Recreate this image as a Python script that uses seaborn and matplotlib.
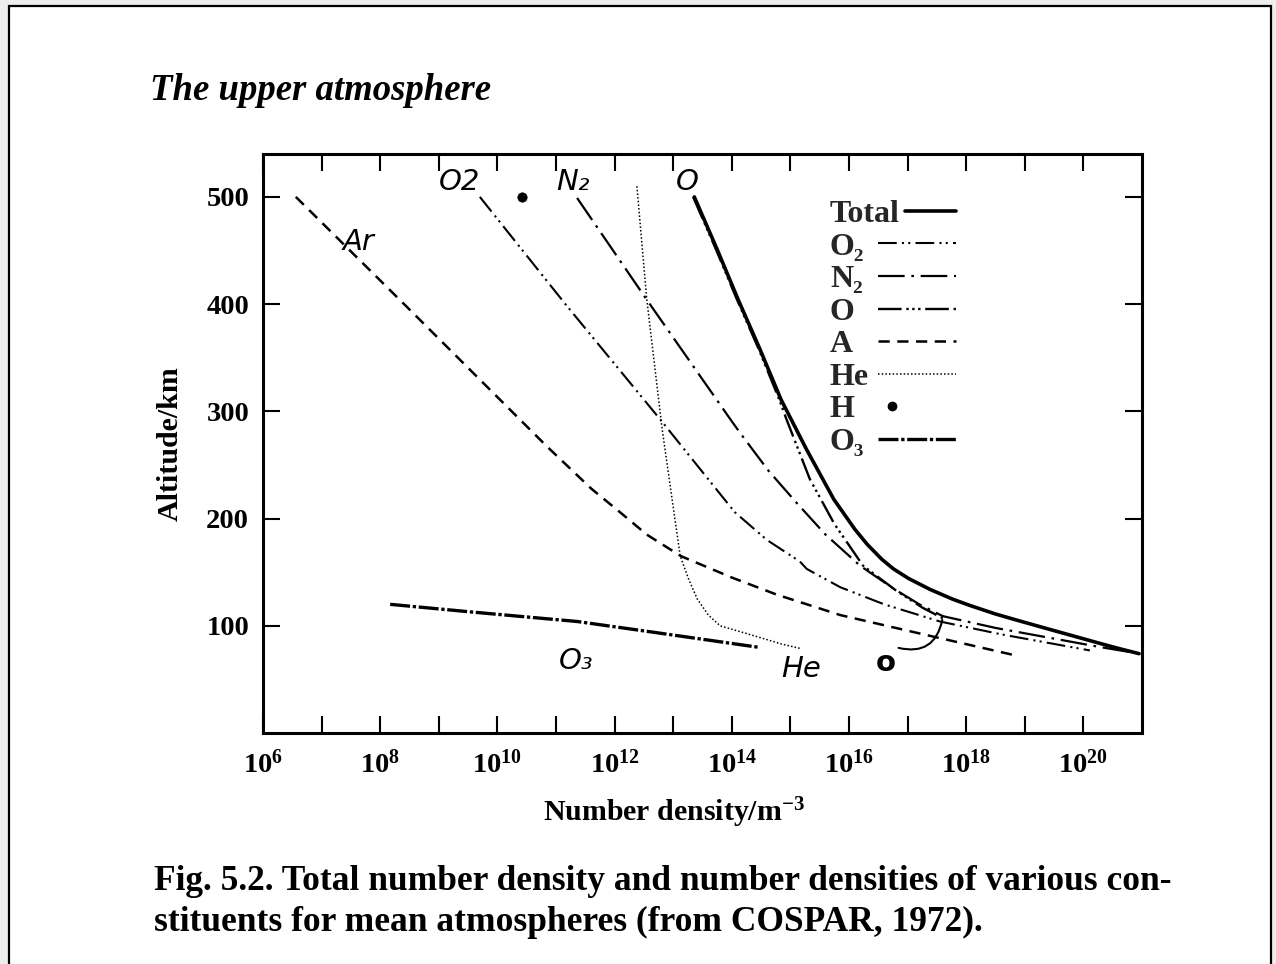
import numpy as np
import pandas as pd
import matplotlib
matplotlib.use("Agg")
import matplotlib.pyplot as plt
from matplotlib.lines import Line2D
from matplotlib.patches import Rectangle
from matplotlib.legend_handler import HandlerLine2D
from matplotlib.ticker import FixedLocator, FuncFormatter, NullLocator
import seaborn as sns

# Number densities are stored as log10(n / m^-3) against altitude in km
total_alt = [500, 451, 404, 358, 311, 265, 218, 190, 176, 162, 153, 144, 134, 125, 119, 111,
             105, 97, 90, 83, 79, 74]
total_log = [13.36, 13.75, 14.11, 14.48, 14.84, 15.27, 15.74, 16.10, 16.31, 16.56, 16.76, 17.02,
             17.38, 17.76, 18.06, 18.50, 18.88, 19.40, 19.86, 20.32, 20.59, 20.95]

o2_alt = [500, 400, 293, 206, 180, 160, 153, 136, 120, 104, 92, 77]
o2_log = [9.70, 11.16, 12.77, 14.05, 14.60, 15.16, 15.28, 15.85, 16.60, 17.55, 18.60, 20.11]

n2_alt = [499, 404, 293, 280, 245, 215, 185, 156, 135, 120, 109, 98, 88, 80, 75]
n2_log = [11.36, 12.55, 13.97, 14.14, 14.62, 15.10, 15.60, 16.19, 16.75, 17.20, 17.60, 18.50, 19.50, 20.30, 20.85]

o_alt = [500, 451, 404, 358, 311, 293, 237, 195, 156, 133, 117, 107]
o_log = [13.34, 13.73, 14.09, 14.46, 14.81, 14.93, 15.33, 15.75, 16.24, 16.80, 17.25, 17.60]

ar_alt = [500, 395, 267, 228, 206, 185, 165, 145, 129, 110, 91, 72]
ar_log = [6.56, 8.50, 10.85, 11.60, 12.09, 12.55, 13.13, 14.00, 14.77, 15.85, 17.35, 18.87]

he_alt = [510, 404, 284, 230, 165, 144, 125, 110, 100, 91, 83, 79]
he_log = [12.38, 12.55, 12.81, 12.95, 13.12, 13.26, 13.41, 13.60, 13.80, 14.36, 14.85, 15.16]

h_alt = [500]
h_log = [10.42]

o3_alt = [120, 113, 104, 94, 80]
o3_log = [8.17, 9.53, 11.36, 12.66, 14.45]

legend_labels = ["Total", "O\u2082", "N\u2082", "O", "A", "He", "H", "O\u2083"]
x_tick_exps = list(range(6, 21))
y_ticks = [100, 200, 300, 400, 500]

sns.set_theme(style="ticks")
plt.rcParams["font.family"] = ["Liberation Serif", "DejaVu Serif"]
plt.rcParams["mathtext.fontset"] = "custom"
plt.rcParams["mathtext.default"] = "regular"
plt.rcParams["mathtext.rm"] = "Liberation Serif"

W, H = 1276, 964
fig = plt.figure(figsize=(W / 100, H / 100), dpi=100)
fig.patch.set_facecolor("#eeeeee")
fig.add_artist(Rectangle((9 / W, -0.02), (1271 - 9) / W, 1.02 - 6 / H,
                         transform=fig.transFigure, facecolor="white",
                         edgecolor="black", linewidth=1.6, zorder=-5))

ax = fig.add_axes([263 / W, 1 - 733 / H, (1142 - 263) / W, (733 - 154) / H])
ax.set_facecolor("white")


def frame(alt, logn):
    return pd.DataFrame({"n": np.power(10.0, logn), "alt": alt})


series = [
    ("Total", total_alt, total_log, dict(linestyle="-", linewidth=2.6)),
    ("O\u2082", o2_alt, o2_log, dict(linestyle=(0, (9, 2.5, 1, 2, 1, 2.5)), linewidth=1.5)),
    ("N\u2082", n2_alt, n2_log, dict(linestyle=(0, (12, 3, 1.2, 3)), linewidth=1.6)),
    ("O", o_alt, o_log, dict(linestyle=(0, (10, 2, 1, 1.5, 1, 1.5, 1, 2)), linewidth=1.7)),
    ("A", ar_alt, ar_log, dict(linestyle=(0, (4.5, 3)), linewidth=1.8)),
    ("He", he_alt, he_log, dict(linestyle=(0, (1, 1.4)), linewidth=1.1)),
    ("O\u2083", o3_alt, o3_log, dict(linestyle=(0, (6, 0.8, 1, 0.8)), linewidth=2.4)),
]

handles = {}
for name, alt, logn, style in series:
    sns.lineplot(data=frame(alt, logn), x="n", y="alt", sort=False, estimator=None,
                 color="black", ax=ax, **style)
    handles[name] = Line2D([], [], color="black", **style)

sns.scatterplot(data=frame(h_alt, h_log), x="n", y="alt", color="black", s=45,
                marker="o", edgecolor="black", ax=ax)
handles["H"] = Line2D([], [], color="black", linestyle="none", marker="o", markersize=6)

ax.set_xscale("log")
ax.set_xlim(1e6, 1e21)
ax.set_ylim(0, 540)

ax.xaxis.set_major_locator(FixedLocator([10.0 ** k for k in x_tick_exps]))
ax.xaxis.set_minor_locator(NullLocator())
ax.xaxis.set_major_formatter(FuncFormatter(
    lambda v, p: r"$10^{%d}$" % round(np.log10(v)) if round(np.log10(v)) % 2 == 0 else ""))
ax.yaxis.set_major_locator(FixedLocator(y_ticks))
ax.yaxis.set_minor_locator(NullLocator())

ax.tick_params(which="both", direction="in", top=True, right=True, length=12, width=1.5,
               color="black", labelsize=20.5, labelcolor="black")
ax.tick_params(axis="x", pad=12)
ax.tick_params(axis="y", pad=10)
for lab in ax.get_xticklabels() + ax.get_yticklabels():
    lab.set_fontweight("bold")
for sp in ax.spines.values():
    sp.set_visible(True)
    sp.set_linewidth(2.2)
    sp.set_color("black")

ax.set_xlabel("Number density/m$^{-3}$", fontsize=21.5, fontweight="bold", color="black")
ax.xaxis.set_label_coords(0.4676, -0.108)
ax.set_ylabel("Altitude/km", fontsize=21.5, fontweight="bold", labelpad=16, color="black")


class PartialHandler(HandlerLine2D):
    """Draws a key sample over only part of the sample slot (start..end as fractions)."""

    def __init__(self, start=0.0, end=1.0, **kw):
        super().__init__(**kw)
        self.start, self.end = start, end

    def create_artists(self, legend, orig_handle, xdescent, ydescent, width, height,
                       fontsize, trans):
        return super().create_artists(legend, orig_handle, xdescent - self.start * width,
                                      ydescent, (self.end - self.start) * width, height,
                                      fontsize, trans)


# Key: a column of left-aligned names next to a column of line samples
leg_font = {"family": ["Liberation Serif", "DejaVu Serif"], "weight": "bold", "size": 23}
leg_common = dict(frameon=False, borderpad=0, borderaxespad=0, labelspacing=0.1, prop=leg_font)
blank = [Line2D([], [], alpha=0) for _ in legend_labels]
names = ax.legend(blank, legend_labels, loc="upper left", bbox_to_anchor=(0.645, 0.921),
                  handlelength=0, handletextpad=0, **leg_common)
ax.add_artist(names)
samples = ax.legend([handles[k] for k in legend_labels], legend_labels, loc="upper left",
                    bbox_to_anchor=(0.6997, 0.921), handlelength=2.45, handletextpad=0,
                    handler_map={handles["Total"]: PartialHandler(0.35, 1.0),
                                 handles["H"]: PartialHandler(0.0, 0.36)},
                    **leg_common)
for t in samples.get_texts():
    t.set_alpha(0)

# Pen annotations on the curves
hand = dict(family="DejaVu Sans", style="italic", fontsize=21, color="black")
ax.text(10 ** 9.0, 506, "O2", **hand)
ax.text(10 ** 11.0, 506, "N\u2082", **hand)
ax.text(10 ** 13.05, 506, "O", **hand)
ax.text(10 ** 7.35, 450, "Ar", **hand)
ax.text(10 ** 11.05, 60, "O\u2083", **hand)
ax.text(10 ** 14.85, 52, "He", **hand)
ax.text(10 ** 16.45, 58, "o", family="DejaVu Sans", fontsize=21, fontweight="bold", color="black")
ax.annotate("", xy=(10 ** 17.6, 108), xytext=(10 ** 16.8, 80),
            arrowprops=dict(arrowstyle="-", color="black", linewidth=1.5,
                            connectionstyle="arc3,rad=0.55"))

fig.text(150 / W, 1 - 100 / H, "The upper atmosphere", fontsize=26.5, fontstyle="italic",
         fontweight="bold", color="black")
fig.text(154 / W, 1 - 890 / H,
         "Fig. 5.2. Total number density and number densities of various con-",
         fontsize=25.5, fontweight="bold", color="black")
fig.text(154 / W, 1 - 931 / H,
         "stituents for mean atmospheres (from COSPAR, 1972).",
         fontsize=25.5, fontweight="bold", color="black")

fig.savefig("out.png", dpi=100, facecolor=fig.get_facecolor())
